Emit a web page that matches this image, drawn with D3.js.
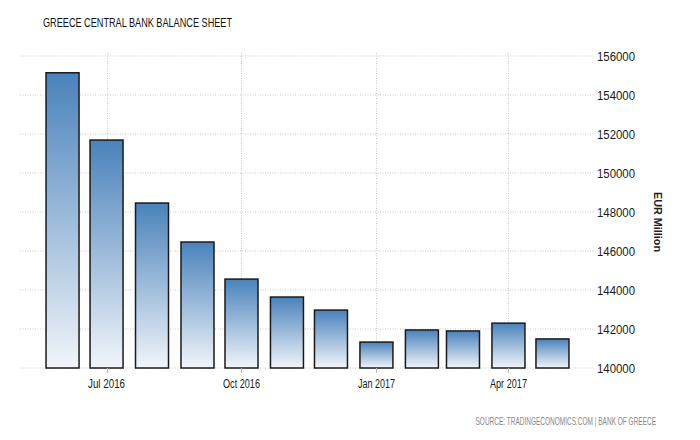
<!DOCTYPE html>
<html>
<head>
<meta charset="utf-8">
<script src="https://cdn.jsdelivr.net/npm/d3@7"></script>
<style>
  html, body { margin: 0; padding: 0; background: #fff; }
  svg { display: block; font-family: "Liberation Sans", Arial, sans-serif; }
</style>
</head>
<body>
<svg id="chart" width="700" height="440"></svg>
<script>
// ---- data ----
const months = ["2016-06", "2016-07", "2016-08", "2016-09", "2016-10", "2016-11",
                "2016-12", "2017-01", "2017-02", "2017-03", "2017-04", "2017-05"];
const values = [155140, 151690, 148460, 146460, 144560, 143640,
                142970, 141330, 141950, 141900, 142300, 141490];
const yTicks = [140000, 142000, 144000, 146000, 148000, 150000, 152000, 154000, 156000];
const xTicks = ["2016-07", "2016-10", "2017-01", "2017-04"];
const xTickLabels = ["Jul 2016", "Oct 2016", "Jan 2017", "Apr 2017"];
const titleText = "GREECE CENTRAL BANK BALANCE SHEET";
const yTitle = "EUR Million";
const sourceText = "SOURCE: TRADINGECONOMICS.COM | BANK OF GREECE";

const parse = d3.timeParse("%Y-%m");
const data = months.map((m, i) => ({ date: parse(m), value: values[i] }));

const svg = d3.select("#chart");
const plot = { left: 20, right: 595, top: 56, bottom: 368 };

const x = d3.scaleTime()
  .domain([new Date(2016, 4, 3), new Date(2017, 4, 30)])
  .range([plot.left, plot.right]);
const y = d3.scaleLinear()
  .domain([140000, 156000])
  .range([plot.bottom, plot.top]);

// gradient
const defs = svg.append("defs");
const grad = defs.append("linearGradient")
  .attr("id", "barGrad").attr("x1", 0).attr("y1", 0).attr("x2", 0).attr("y2", 1);
grad.append("stop").attr("offset", "0%").attr("stop-color", "#4a82bb");
grad.append("stop").attr("offset", "100%").attr("stop-color", "#f1f5fa");

// horizontal grid
svg.append("g").selectAll("line").data(yTicks).join("line")
  .attr("x1", plot.left).attr("x2", plot.right)
  .attr("y1", d => y(d)).attr("y2", d => y(d))
  .attr("stroke", "#c8c8c8").attr("stroke-width", 1)
  .attr("stroke-dasharray", "1,1.5");

// vertical grid
svg.append("g").selectAll("line").data(xTicks).join("line")
  .attr("x1", d => Math.round(x(parse(d))) + 0.5).attr("x2", d => Math.round(x(parse(d))) + 0.5)
  .attr("y1", plot.top - 3).attr("y2", plot.bottom)
  .attr("stroke", "#c8c8c8").attr("stroke-width", 1)
  .attr("stroke-dasharray", "1,1.5");

// bars
const barW = 33;
svg.append("g").selectAll("rect").data(data).join("rect")
  .attr("x", d => x(d.date) - barW / 2)
  .attr("y", d => y(d.value))
  .attr("width", barW)
  .attr("height", d => y(140000) - y(d.value))
  .attr("fill", "url(#barGrad)")
  .attr("stroke", "#1a1a1a")
  .attr("stroke-width", 1.5);

// x axis tick marks & labels
const xg = svg.append("g");
xg.selectAll("line").data(xTicks).join("line")
  .attr("x1", d => Math.round(x(parse(d))) + 0.5).attr("x2", d => Math.round(x(parse(d))) + 0.5)
  .attr("y1", plot.bottom).attr("y2", plot.bottom + 5)
  .attr("stroke", "#bbb");
xg.selectAll("text").data(xTicks).join("text")
  .attr("x", d => x(parse(d)))
  .attr("y", 388)
  .attr("text-anchor", "middle")
  .attr("font-size", 12)
  .attr("fill", "#1a1a1a")
  .attr("textLength", 37).attr("lengthAdjust", "spacingAndGlyphs")
  .text((d, i) => xTickLabels[i]);

// y axis labels (right)
svg.append("g").selectAll("text").data(yTicks).join("text")
  .attr("x", 597)
  .attr("y", d => y(d) + 4.5)
  .attr("font-size", 12)
  .attr("fill", "#1a1a1a")
  .attr("textLength", 38).attr("lengthAdjust", "spacingAndGlyphs")
  .text(d => d3.format("d")(d));

// y title
svg.append("text")
  .attr("transform", "translate(654,222) rotate(90)")
  .attr("text-anchor", "middle")
  .attr("font-size", 11)
  .attr("font-weight", "bold")
  .attr("fill", "#222")
  .attr("textLength", 60).attr("lengthAdjust", "spacingAndGlyphs")
  .text(yTitle);

// title
svg.append("text")
  .attr("x", 43).attr("y", 27)
  .attr("font-size", 13)
  .attr("fill", "#111")
  .attr("textLength", 189).attr("lengthAdjust", "spacingAndGlyphs")
  .text(titleText);

// source (horizontally condensed via transform)
svg.append("text")
  .attr("transform", "translate(656,425) scale(0.65,1)")
  .attr("text-anchor", "end")
  .attr("font-size", 10)
  .attr("fill", "#888")
  .text(sourceText);
</script>
</body>
</html>
